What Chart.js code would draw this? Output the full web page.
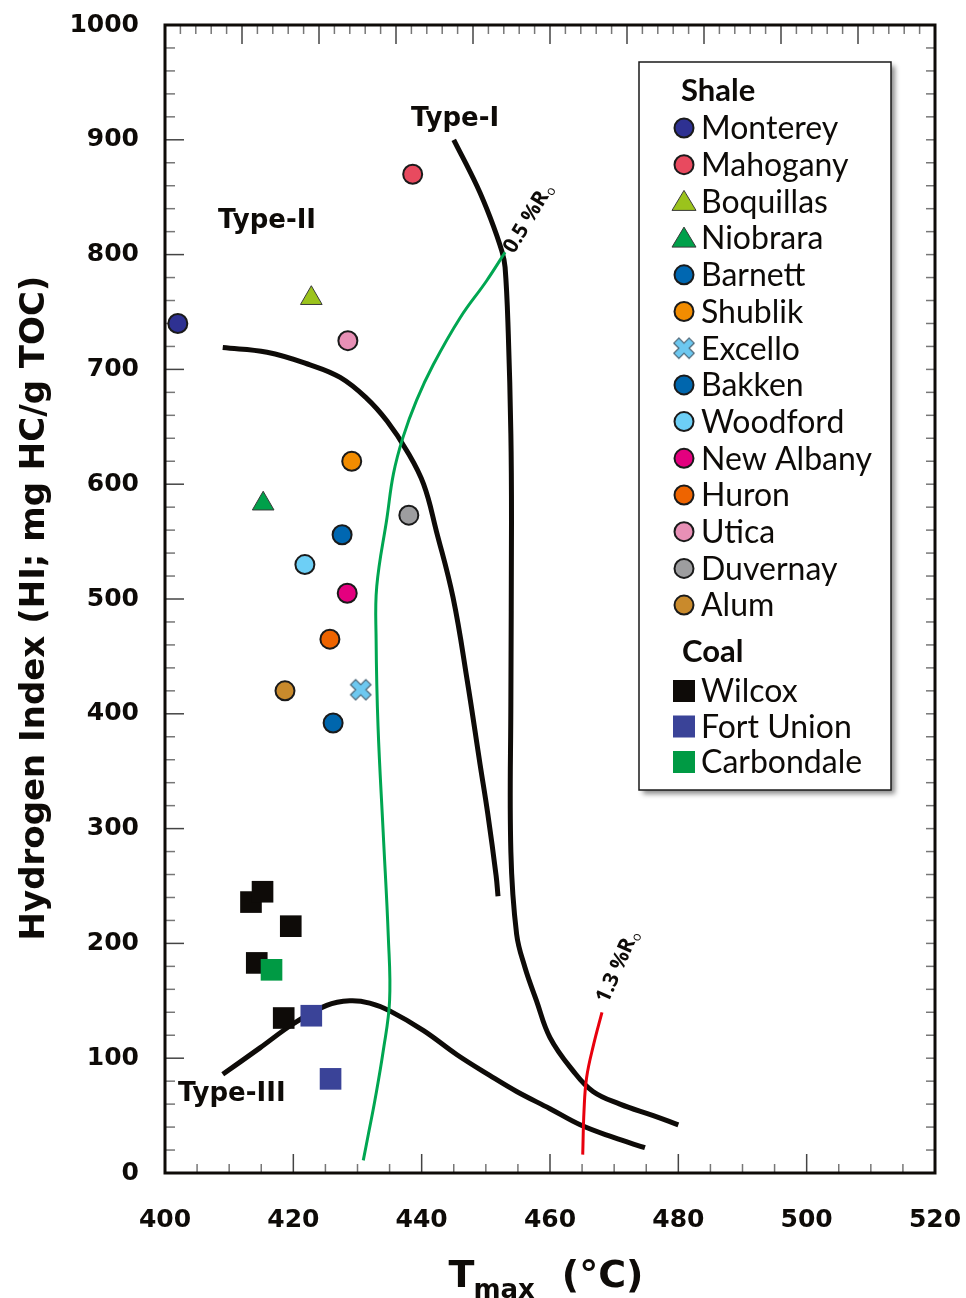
<!DOCTYPE html>
<html>
<head>
<meta charset="utf-8">
<title>HI vs Tmax</title>
<script src="https://cdn.jsdelivr.net/npm/chart.js@4"></script>
<style>
  html, body { margin: 0; padding: 0; background: #fff; }
  #wrap { width: 966px; height: 1298px; }
</style>
</head>
<body>
<div id="wrap"><canvas id="hiChart"></canvas></div>
<script>
// Shale samples (one point each)
const shaleNames = ['Monterey', 'Mahogany', 'Boquillas', 'Niobrara', 'Barnett', 'Shublik', 'Excello',
  'Bakken', 'Woodford', 'New Albany', 'Huron', 'Utica', 'Duvernay', 'Alum'];
const shaleTmax = [402.0, 438.6, 422.8, 415.3, 427.6, 429.1, 430.5, 426.2, 421.8, 428.4, 425.7, 428.5, 438.0, 418.7];
const shaleHI = [740, 870, 762, 583, 556, 620, 421, 392, 530, 505, 465, 725, 573, 420];
const shaleColors = ['#2e3192', '#e84a5f', '#9bc31c', '#00a04a', '#0067b1', '#f28c00', '#6dc8f0',
  '#0066ad', '#6dcff6', '#e4007f', '#ee6400', '#e890b6', '#9d9d9f', '#c98a2c'];
const shaleShapes = ['circle', 'circle', 'triangle', 'triangle', 'circle', 'circle', 'cross',
  'circle', 'circle', 'circle', 'circle', 'circle', 'circle', 'circle'];

// Coal samples
const coalNames = ['Wilcox', 'Fort Union', 'Carbondale'];
const coalColors = ['#0e0b08', '#3a4398', '#009a44'];
const wilcoxTmax = [413.4, 415.2, 419.6, 414.3, 418.5];
const wilcoxHI = [236, 245, 215, 183, 135];
const fortUnionTmax = [422.8, 425.8];
const fortUnionHI = [137, 82];
const carbondaleTmax = [416.6];
const carbondaleHI = [177];

// Kerogen type curves
const type1Tmax = [445.0, 448.6, 450.7, 452.5, 453.0, 453.5, 453.9, 454.0, 453.9, 453.9, 454.8, 456.1, 457.9, 460.0, 463.6, 466.7, 470.9, 476.1, 480.0];
const type1HI = [900, 860, 832, 803, 789, 731, 644, 568, 411, 280, 208, 179, 150, 118, 89, 71, 60, 50, 42];
const type2Tmax = [409.0, 415.9, 422.6, 427.3, 431.4, 434.6, 437.7, 440.3, 442.3, 444.9, 447.1, 449.1, 450.3, 451.6, 451.9];
const type2HI = [719, 715, 704, 693, 675, 655, 629, 600, 559, 501, 429, 356, 313, 259, 241];
const type3Tmax = [409.0, 414.8, 420.0, 425.2, 428.8, 431.9, 435.1, 440.3, 445.5, 450.6, 454.8, 460.0, 464.7, 469.9, 474.8];
const type3HI = [86, 109, 130, 146, 150, 148, 141, 124, 103, 85, 71, 56, 42, 31, 22];

// Vitrinite reflectance iso-lines
const ro05Tmax = [453.0, 450.1, 446.0, 441.8, 439.2, 437.1, 435.6, 434.6, 433.0, 432.9, 433.2, 434.0, 434.8, 435.0, 434.0, 432.7, 431.7, 430.9];
const ro05HI = [802, 777, 745, 704, 673, 641, 609, 571, 511, 465, 389, 297, 206, 150, 106, 63, 34, 11];
const ro13Tmax = [468.1, 466.8, 465.7, 465.3, 465.1];
const ro13HI = [140, 112, 83, 54, 16];

// Axis ticks
const xMin = 400, xMax = 520, xStep = 20;
const yMin = 0, yMax = 1000, yStep = 100;
const yTitle = 'Hydrogen Index (HI; mg HC/g TOC)';

// text placed in the plot (data units)
const typeLabels = [
  { text: 'Type-I', t: 445.2, hi: 918 },
  { text: 'Type-II', t: 415.9, hi: 829 },
  { text: 'Type-III', t: 410.4, hi: 69 }
];
const roLabels = [
  { text: '0.5 %R', sub: 'o', t: 454.4, hi: 800, angle: -59 },
  { text: '1.3 %R', sub: 'o', t: 469.0, hi: 147, angle: -66 }
];

function pts(xs, ys) {
  return xs.map((x, i) => ({ x: x, y: ys[i] }));
}

// fat blue "x" marker for Excello
function makeCrossIcon(size, fill, stroke) {
  const c = document.createElement('canvas');
  c.width = size; c.height = size;
  const g = c.getContext('2d');
  const h = size / 2, a = size * 0.15, L = size * 0.45;
  g.translate(h, h);
  g.rotate(Math.PI / 4);
  g.beginPath();
  g.moveTo(-a, -L); g.lineTo(a, -L); g.lineTo(a, -a); g.lineTo(L, -a); g.lineTo(L, a); g.lineTo(a, a);
  g.lineTo(a, L); g.lineTo(-a, L); g.lineTo(-a, a); g.lineTo(-L, a); g.lineTo(-L, -a); g.lineTo(-a, -a);
  g.closePath();
  g.fillStyle = fill; g.fill();
  g.lineWidth = 1.2; g.strokeStyle = stroke; g.stroke();
  return c;
}
const crossIcon = makeCrossIcon(24, '#6dc8f0', '#4b6475');

const datasets = [];

shaleNames.forEach((name, i) => {
  const shape = shaleShapes[i];
  const ds = {
    label: name,
    data: pts([shaleTmax[i]], [shaleHI[i]]),
    backgroundColor: shaleColors[i],
    borderColor: '#1a1a1a',
    borderWidth: 2,
    pointRadius: 9.5,
    pointStyle: 'circle'
  };
  if (shape === 'triangle') {
    ds.pointStyle = 'triangle';
    ds.pointRadius = 12.5;
    ds.borderWidth = 1;
    ds.borderColor = '#3a3a3a';
  } else if (shape === 'cross') {
    ds.pointStyle = crossIcon;
  }
  datasets.push(ds);
});

datasets.push({
  label: 'Carbondale', data: pts(carbondaleTmax, carbondaleHI),
  backgroundColor: coalColors[2], borderWidth: 0, pointStyle: 'rect', pointRadius: 15.3
});
datasets.push({
  label: 'Fort Union', data: pts(fortUnionTmax, fortUnionHI),
  backgroundColor: coalColors[1], borderWidth: 0, pointStyle: 'rect', pointRadius: 15.3
});
datasets.push({
  label: 'Wilcox', data: pts(wilcoxTmax, wilcoxHI),
  backgroundColor: coalColors[0], borderWidth: 0, pointStyle: 'rect', pointRadius: 15.3
});

function curve(label, xs, ys, color, width) {
  return {
    label: label, data: pts(xs, ys), showLine: true, pointRadius: 0,
    borderColor: color, borderWidth: width, tension: 0.4, fill: false,
    borderCapStyle: 'butt', borderJoinStyle: 'round'
  };
}
datasets.push(curve('0.5 %Ro', ro05Tmax, ro05HI, '#00a651', 3));
datasets.push(curve('1.3 %Ro', ro13Tmax, ro13HI, '#e8000d', 3));
datasets.push(curve('Type-I', type1Tmax, type1HI, '#0e0b08', 5));
datasets.push(curve('Type-II', type2Tmax, type2HI, '#0e0b08', 5));
datasets.push(curve('Type-III', type3Tmax, type3HI, '#0e0b08', 5));

// frame + inward ticks on all four sides
const framePlugin = {
  id: 'frame',
  beforeDatasetsDraw(chart) {
    const { ctx, chartArea: a, scales: { x, y } } = chart;
    ctx.save();
    ctx.lineWidth = 1.5;
    const tick = (x1, y1, x2, y2, col) => {
      ctx.strokeStyle = col;
      ctx.beginPath(); ctx.moveTo(x1, y1); ctx.lineTo(x2, y2); ctx.stroke();
    };
    // bottom: major every 20, minor every 5
    for (let v = xMin; v <= xMax; v += 5) {
      const px = x.getPixelForValue(v);
      const major = (v - xMin) % xStep === 0;
      tick(px, a.bottom, px, a.bottom - (major ? 19 : 9), major ? '#444' : '#777');
    }
    // top: ten divisions, five minor each
    for (let k = 0; k <= 50; k++) {
      const px = x.getPixelForValue(xMin + k * (xMax - xMin) / 50);
      const major = k % 5 === 0;
      tick(px, a.top, px, a.top + (major ? 19 : 9), major ? '#444' : '#777');
    }
    // left and right: major every 100, minor every 20
    for (let v = yMin; v <= yMax; v += 20) {
      const py = y.getPixelForValue(v);
      const major = v % yStep === 0;
      tick(a.left, py, a.left + (major ? 19 : 10), py, major ? '#444' : '#777');
      tick(a.right, py, a.right - 9, py, '#777');
    }
    ctx.strokeStyle = '#0e0b08';
    ctx.lineWidth = 3;
    ctx.strokeRect(a.left, a.top, a.right - a.left, a.bottom - a.top);
    ctx.restore();
  }
};

// labels inside the plot
const textPlugin = {
  id: 'plotText',
  afterDatasetsDraw(chart) {
    const { ctx, scales: { x, y } } = chart;
    ctx.save();
    ctx.fillStyle = '#0e0b08';
    ctx.font = 'bold 26px "DejaVu Sans"';
    ctx.textAlign = 'center';
    ctx.textBaseline = 'middle';
    typeLabels.forEach(l => ctx.fillText(l.text, x.getPixelForValue(l.t), y.getPixelForValue(l.hi)));

    roLabels.forEach(l => {
      ctx.save();
      ctx.translate(x.getPixelForValue(l.t), y.getPixelForValue(l.hi));
      ctx.rotate(l.angle * Math.PI / 180);
      ctx.textAlign = 'left';
      ctx.textBaseline = 'alphabetic';
      ctx.font = 'bold 21px "Open Sans"';
      ctx.fillText(l.text, 0, 0);
      const w = ctx.measureText(l.text).width;
      ctx.font = '13px "Open Sans"';
      ctx.fillText(l.sub, w + 1, 3);
      ctx.restore();
    });
    ctx.restore();
  }
};

// axis titles (x has a subscript, y sits a little below centre)
const axisTitlePlugin = {
  id: 'axisTitles',
  afterDraw(chart) {
    const { ctx, chartArea: a } = chart;
    const cx = (a.left + a.right) / 2;
    const base = a.bottom + 114;
    ctx.save();
    ctx.fillStyle = '#0e0b08';
    ctx.textAlign = 'left';
    ctx.textBaseline = 'alphabetic';
    ctx.font = 'bold 38px "DejaVu Sans"';
    const tW = ctx.measureText('T').width;
    ctx.font = 'bold 26px "DejaVu Sans"';
    const mW = ctx.measureText('max').width;
    ctx.font = 'bold 38px "DejaVu Sans"';
    const pW = ctx.measureText('(°C)').width;
    const gap = 26;
    let sx = cx - (tW + mW + gap + pW) / 2 - 4;
    ctx.fillText('T', sx, base);
    ctx.font = 'bold 26px "DejaVu Sans"';
    ctx.fillText('max', sx + tW - 1, base + 11);
    ctx.font = 'bold 38px "DejaVu Sans"';
    ctx.fillText('(°C)', sx + tW + mW + gap, base);

    ctx.translate(35, (a.top + a.bottom) / 2 + 9);
    ctx.rotate(-Math.PI / 2);
    ctx.textAlign = 'center';
    ctx.textBaseline = 'middle';
    ctx.font = 'bold 34px "DejaVu Sans"';
    ctx.fillText(yTitle, 0, 0);
    ctx.restore();
  }
};

// boxed legend with Shale / Coal groups
function drawMarker(ctx, shape, color, px, py) {
  ctx.save();
  ctx.fillStyle = color;
  if (shape === 'circle') {
    ctx.beginPath(); ctx.arc(px, py, 9.5, 0, Math.PI * 2);
    ctx.fill(); ctx.lineWidth = 2; ctx.strokeStyle = '#1a1a1a'; ctx.stroke();
  } else if (shape === 'triangle') {
    ctx.beginPath();
    ctx.moveTo(px, py - 11); ctx.lineTo(px + 12, py + 9); ctx.lineTo(px - 12, py + 9); ctx.closePath();
    ctx.fill(); ctx.lineWidth = 1; ctx.strokeStyle = '#3a3a3a'; ctx.stroke();
  } else if (shape === 'cross') {
    ctx.drawImage(crossIcon, px - 12, py - 12);
  } else {
    ctx.fillRect(px - 11, py - 11, 22, 22);
  }
  ctx.restore();
}

const legendPlugin = {
  id: 'boxLegend',
  afterDraw(chart) {
    const ctx = chart.ctx;
    const bx = 639, by = 62, bw = 252, bh = 728;
    ctx.save();
    ctx.shadowColor = 'rgba(0,0,0,0.45)';
    ctx.shadowBlur = 5; ctx.shadowOffsetX = 4; ctx.shadowOffsetY = 4;
    ctx.fillStyle = '#fff';
    ctx.fillRect(bx, by, bw, bh);
    ctx.restore();
    ctx.save();
    ctx.strokeStyle = '#1a1a1a'; ctx.lineWidth = 1.5;
    ctx.strokeRect(bx, by, bw, bh);

    const mx = bx + 45, tx = bx + 62;
    ctx.fillStyle = '#0e0b08';
    ctx.textBaseline = 'middle';
    ctx.textAlign = 'left';
    ctx.font = 'bold 31px Lato';
    ctx.fillText('Shale', bx + 42, by + 29);
    let ry = by + 66;
    shaleNames.forEach((name, i) => {
      drawMarker(ctx, shaleShapes[i], shaleColors[i], mx, ry);
      ctx.fillStyle = '#0e0b08';
      ctx.font = '32px Lato';
      ctx.fillText(name, tx, ry + 1);
      ry += 36.7;
    });
    ctx.font = 'bold 31px Lato';
    ctx.fillText('Coal', bx + 43, by + 590);
    ry = by + 629;
    coalNames.forEach((name, i) => {
      drawMarker(ctx, 'rect', coalColors[i], mx, ry);
      ctx.fillStyle = '#0e0b08';
      ctx.font = '32px Lato';
      ctx.fillText(name, tx, ry + 1);
      ry += 35.5;
    });
    ctx.restore();
  }
};

const tickFont = { family: 'DejaVu Sans', weight: 'bold', size: 25 };

// labels may hang past the plot edges; keep the plot box where it is
function noOverhang(s) {
  s.paddingTop = 0; s.paddingBottom = 0; s.paddingLeft = 0; s.paddingRight = 0;
}

new Chart(document.getElementById('hiChart'), {
  type: 'scatter',
  data: { datasets: datasets },
  options: {
    responsive: true,
    maintainAspectRatio: false,
    animation: false,
    layout: { padding: { top: 25, right: 31, left: 0, bottom: 0 } },
    plugins: { legend: { display: false }, tooltip: { enabled: false } },
    scales: {
      x: {
        type: 'linear', min: xMin, max: xMax, position: 'bottom',
        ticks: { stepSize: xStep, font: tickFont, color: '#0e0b08', padding: 32, maxRotation: 0,
          callback: v => String(v) },
        grid: { display: false, drawTicks: false },
        border: { display: false },
        afterFit: s => { s.height = 125; noOverhang(s); }
      },
      y: {
        type: 'linear', min: yMin, max: yMax,
        ticks: { stepSize: yStep, font: tickFont, color: '#0e0b08', padding: 26,
          callback: v => String(v) },
        grid: { display: false, drawTicks: false },
        border: { display: false },
        afterFit: s => { s.width = 165; noOverhang(s); }
      }
    }
  },
  plugins: [framePlugin, textPlugin, axisTitlePlugin, legendPlugin]
});
</script>
</body>
</html>
